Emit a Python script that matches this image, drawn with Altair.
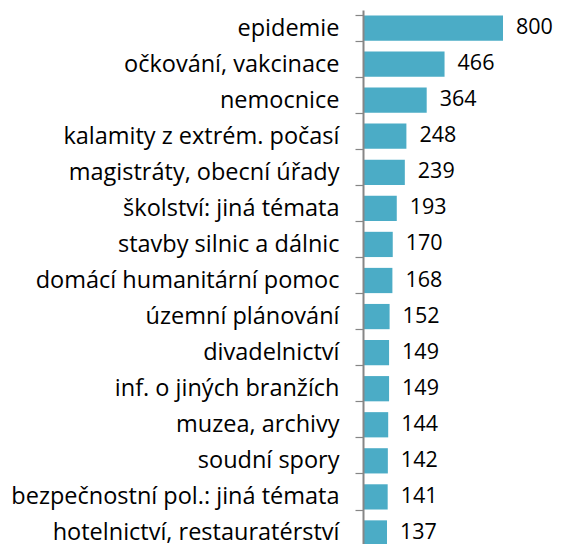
import altair as alt
import pandas as pd

categories = ["epidemie", "očkování, vakcinace", "nemocnice", "kalamity z extrém. počasí",
              "magistráty, obecní úřady", "školství: jiná témata", "stavby silnic a dálnic",
              "domácí humanitární pomoc", "územní plánování", "divadelnictví",
              "inf. o jiných branžích", "muzea, archivy", "soudní spory",
              "bezpečnostní pol.: jiná témata", "hotelnictví, restauratérství"]
values = [800, 466, 364, 248, 239, 193, 170, 168, 152, 149, 149, 144, 142, 141, 137]

df = pd.DataFrame({"cat": categories, "val": values})

FONT = "Open Sans"
y = alt.Y("cat:N", sort=categories, title=None,
          scale=alt.Scale(paddingInner=0.3, paddingOuter=0.15),
          axis=alt.Axis(domain=True, ticks=True, tickBand="extent", tickSize=8,
                        tickColor="#868686", tickWidth=1.2, domainWidth=2,
                        domainColor="#868686", labelFont=FONT, labelFontSize=23.5,
                        labelColor="#000000", labelPadding=16, labelLimit=400,
                        grid=False, zindex=2))
x = alt.X("val:Q", title=None, scale=alt.Scale(domain=[0, 800], nice=False),
          axis=None)

base = alt.Chart(df).encode(y=y)
bars = base.mark_bar(color="#4BACC6").encode(x=x)
text = base.mark_text(align="left", baseline="middle", dx=13, font=FONT,
                      fontSize=21.5, color="#000000").encode(x=x, text="val:Q")

chart = (bars + text).properties(
    width=140, height=541,
    autosize=alt.AutoSizeParams(type="none"),
    padding={"left": 355, "top": 2, "right": 50, "bottom": -6}
).configure_view(stroke=None)

chart.save("out.html", embed_options={"renderer": "svg", "actions": False})
